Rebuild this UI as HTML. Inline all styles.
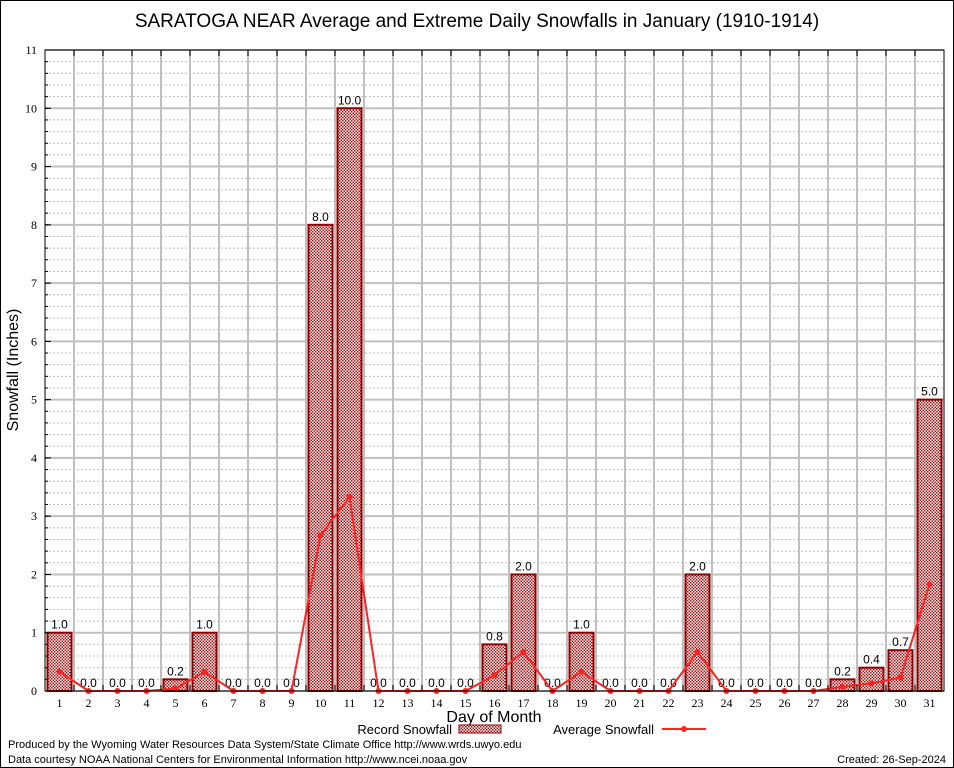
<!DOCTYPE html>
<html><head><meta charset="utf-8"><style>
body{margin:0;background:#fff}
svg{display:block;font-family:"Liberation Sans",sans-serif}
</style></head><body>
<svg id="chart" width="954" height="768" viewBox="0 0 954 768" xmlns="http://www.w3.org/2000/svg">
<defs>
<pattern id="chk" width="3" height="3" patternUnits="userSpaceOnUse">
<rect width="3" height="3" fill="#fff"/>
<rect width="1.5" height="1.5" fill="#b01010"/>
<rect x="1.5" y="1.5" width="1.5" height="1.5" fill="#b01010"/>
</pattern>
</defs>
<rect x="0.5" y="0.5" width="953" height="767" fill="#fff" stroke="#000"/>
<text x="477" y="27" font-size="19" text-anchor="middle">SARATOGA NEAR Average and Extreme Daily Snowfalls in January (1910-1914)</text>
<g id="grid"></g>
<g id="bars"></g>
<g id="line"></g>
<g id="axes"></g>
<text x="18" y="370" font-size="16" text-anchor="middle" transform="rotate(-90 18 370)">Snowfall (Inches)</text>
<text x="494" y="722" font-size="16" text-anchor="middle">Day of Month</text>
<g>
<text x="452" y="734" font-size="13" text-anchor="end">Record Snowfall</text>
<rect x="459" y="725" width="42" height="8" fill="url(#chk)" stroke="#8b0000"/>
</g>
<g>
<text x="654" y="734" font-size="13" text-anchor="end">Average Snowfall</text>
<line x1="662" y1="729" x2="706" y2="729" stroke="#f22" stroke-width="2"/>
<circle cx="684" cy="729" r="3" fill="#f22"/>
</g>
<text x="8" y="748" font-size="11">Produced by the Wyoming Water Resources Data System/State Climate Office http://www.wrds.uwyo.edu</text>
<text x="8" y="763" font-size="11">Data courtesy NOAA National Centers for Environmental Information http://www.ncei.noaa.gov</text>
<text x="946" y="763" font-size="11" text-anchor="end">Created:  26-Sep-2024</text>
</svg>
<script>
const days=[1,2,3,4,5,6,7,8,9,10,11,12,13,14,15,16,17,18,19,20,21,22,23,24,25,26,27,28,29,30,31];
const recordValues=[1.0,0,0,0,0.2,1.0,0,0,0,8.0,10.0,0,0,0,0,0.8,2.0,0,1.0,0,0,0,2.0,0,0,0,0,0.2,0.4,0.7,5.0];
const averageValues=[0.33,0,0,0,0.04,0.33,0,0,0,2.67,3.33,0,0,0,0,0.27,0.67,0,0.33,0,0,0,0.67,0,0,0,0,0.07,0.13,0.23,1.83];
const yTicks=[0,1,2,3,4,5,6,7,8,9,10,11];
const L=45,R=944,T=50,B=691,yMax=11;
const slot=(R-L)/days.length;
const xs=d=>L+(d-0.5)*slot;
const ys=v=>B-v/yMax*(B-T);
const NS="http://www.w3.org/2000/svg";
function mk(tag,attrs,parent,txt){const e=document.createElementNS(NS,tag);for(const k in attrs)e.setAttribute(k,attrs[k]);if(txt!==undefined)e.textContent=txt;parent.appendChild(e);return e;}
const grid=document.getElementById('grid'),bars=document.getElementById('bars'),line=document.getElementById('line'),axes=document.getElementById('axes');
for(let i=0;i<yMax*5;i++){if(i%5===0)continue;const y=ys(i/5);const g=mk('line',{x1:L,x2:R,y1:y,y2:y,stroke:'#bbb','stroke-dasharray':'2,2','stroke-width':1},grid);}
yTicks.forEach(t=>{const y=ys(t);const g=mk('line',{x1:L,x2:R,y1:y,y2:y,stroke:'#c0c0c0','stroke-width':2},grid);
const lb=mk('text',{x:L-8,y:y+4,'font-size':12,'text-anchor':'end','font-family':'Liberation Serif'},axes,String(t));
mk('line',{x1:L,x2:L+6,y1:y,y2:y,stroke:'#000'},axes);});
for(let i=0;i<yMax*5;i++){const y=ys(i/5);mk('line',{x1:L,x2:L+3,y1:y,y2:y,stroke:'#000'},axes);}
for(let i=1;i<days.length;i++){const x=L+i*slot;const g=mk('line',{x1:x,x2:x,y1:T,y2:B,stroke:'#c0c0c0','stroke-width':2},grid);
mk('line',{x1:x,x2:x,y1:T,y2:T+6,stroke:'#000'},axes);mk('line',{x1:x,x2:x,y1:B,y2:B-6,stroke:'#000'},axes);}
days.forEach((d,i)=>{const x=xs(d),v=recordValues[i];
if(v>0){const r=mk('rect',{x:x-12,y:ys(v),width:24,height:B-ys(v),fill:'url(#chk)',stroke:'#8b0000','stroke-width':2},bars);}
const t=mk('text',{x:x,y:ys(v)-4,'font-size':12,'text-anchor':'middle'},bars,v.toFixed(1));
const xl=mk('text',{x:x,y:B+16,'font-size':12,'text-anchor':'middle','font-family':'Liberation Serif'},axes,String(d));});
const pl=mk('polyline',{points:days.map((d,i)=>xs(d)+','+ys(averageValues[i])).join(' '),fill:'none',stroke:'#f22','stroke-width':2},line);


days.forEach((d,i)=>{const c=mk('circle',{cx:xs(d),cy:ys(averageValues[i]),r:3,fill:'#f22'},line);});
const fr=mk('rect',{x:L,y:T,width:R-L,height:B-T,fill:'none',stroke:'#000'},axes);


</script>
</body></html>
